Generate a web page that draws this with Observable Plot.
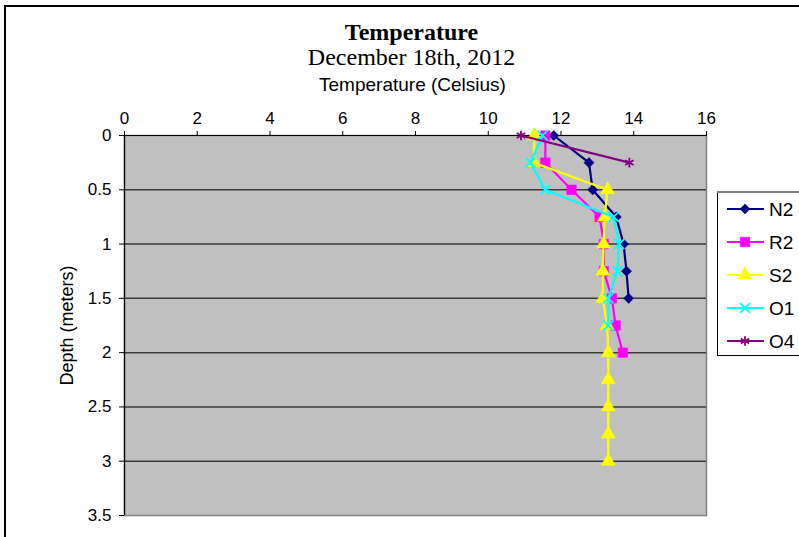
<!DOCTYPE html>
<html>
<head>
<meta charset="utf-8">
<script src="https://cdn.jsdelivr.net/npm/d3@7"></script>
<script src="https://cdn.jsdelivr.net/npm/@observablehq/plot@0.6"></script>
<style>
  html, body { margin: 0; padding: 0; background: #fff; overflow: hidden; width: 799px; height: 537px; }
  #wrap { position: relative; width: 799px; height: 537px; }
  #border { position: absolute; left: 4px; top: 5px; width: 900px; height: 700px; border: 2px solid #000; box-sizing: border-box; }
  #chart { position: absolute; left: 0; top: 0; }
  #legend { position: absolute; left: 717px; top: 191px; }
</style>
</head>
<body>
<div id="wrap">
  <div id="border"></div>
  <div id="chart"></div>
  <div id="legend"></div>
</div>
<script>
// Depth profile readings (meters) and water temperature (°C) per station
const depths = [0, 0.25, 0.5, 0.75, 1, 1.25, 1.5, 1.75, 2, 2.25, 2.5, 2.75, 3];
const n2Temp = [11.8, 12.77, 12.87, 13.52, 13.72, 13.8, 13.86];
const r2Temp = [11.57, 11.57, 12.29, 13.06, 13.18, 13.18, 13.4, 13.5, 13.7];
const s2Temp = [11.27, 11.25, 13.28, 13.2, 13.17, 13.15, 13.15, 13.27, 13.3, 13.3, 13.3, 13.3, 13.3];
const o1Temp = [11.49, 11.16, 11.57, 13.45, 13.6, 13.55, 13.3, 13.3];
const o4Temp = [10.9, 13.88];

const seriesNames = ["N2", "R2", "S2", "O1", "O4"];
const seriesTemps = [n2Temp, r2Temp, s2Temp, o1Temp, o4Temp];
const seriesColors = ["#000080", "#ff00ff", "#ffff00", "#00ffff", "#800080"];
const seriesSymbols = ["diamond2", "square", "triangle", "times", "asterisk"];
const seriesSizes = [4.6, 5.4, 5.2, 4.6, 4.6];

const tempTicks = [0, 2, 4, 6, 8, 10, 12, 14, 16];
const depthTicks = [0, 0.5, 1, 1.5, 2, 2.5, 3, 3.5];
const depthGrid = [0.5, 1, 1.5, 2, 2.5, 3];

const titleText = "Temperature";
const subtitleText = "December 18th, 2012";
const xTitle = "Temperature (Celsius)";
const yTitle = "Depth (meters)";

// Tidy rows: one per reading
const series = seriesNames.map((name, i) => ({
  name,
  color: seriesColors[i],
  symbol: seriesSymbols[i],
  r: seriesSizes[i],
  rows: seriesTemps[i].map((t, j) => ({ station: name, depth: depths[j], temp: t }))
}));

const filled = new Set(["diamond2", "square", "triangle"]);

const seriesMarks = series.flatMap(s => [
  Plot.line(s.rows, { x: "temp", y: "depth", stroke: s.color, strokeWidth: 2.2 }),
  Plot.dot(s.rows, {
    x: "temp", y: "depth", symbol: () => s.symbol, r: s.r,
    fill: filled.has(s.symbol) ? s.color : "none",
    stroke: s.color, strokeWidth: filled.has(s.symbol) ? 0.5 : 1.8
  })
]);

const serif = "'Liberation Serif', 'Times New Roman', serif";

const chart = Plot.plot({
  width: 799,
  height: 537,
  marginLeft: 124,
  marginRight: 93,
  marginTop: 135,
  marginBottom: 22,
  style: { fontFamily: "'Liberation Sans', Arial, sans-serif", fontSize: "17px", color: "#000", background: "transparent", overflow: "visible" },
  x: { domain: [0, 16] },
  y: { domain: [0, 3.5], reverse: true },
  symbol: { domain: seriesSymbols, range: seriesSymbols },
  marks: [
    Plot.frame({ fill: "#c0c0c0", stroke: "#808080", strokeWidth: 1.5 }),
    Plot.ruleY(depthGrid, { stroke: "#3a3a3a", strokeWidth: 1.5 }),
    Plot.ruleX([0], { stroke: "#000", strokeWidth: 1.2 }),
    Plot.ruleY([0], { stroke: "#000", strokeWidth: 1.2 }),
    Plot.axisX({ anchor: "top", ticks: tempTicks, tickSize: 5, tickPadding: 7, label: null, fontSize: 17 }),
    Plot.axisY({ anchor: "left", ticks: depthTicks, tickFormat: d => `${d}`, tickSize: 5, tickPadding: 8, label: null, fontSize: 17 }),
    ...seriesMarks,
    Plot.text([titleText], { frameAnchor: "top", lineAnchor: "middle", dx: -4, dy: -103, fontFamily: serif, fontWeight: "bold", fontSize: 24, fill: "#000" }),
    Plot.text([subtitleText], { frameAnchor: "top", lineAnchor: "middle", dx: -4, dy: -78, fontFamily: serif, fontSize: 24, fill: "#000" }),
    Plot.text([xTitle], { frameAnchor: "top", lineAnchor: "middle", dx: -3, dy: -51, fontSize: 19, fill: "#000" }),
    Plot.text([yTitle], { frameAnchor: "left", textAnchor: "middle", lineAnchor: "middle", dx: -57, rotate: -90, fontSize: 18, fill: "#000" })
  ]
});
document.getElementById("chart").appendChild(chart);

// Legend: line + marker swatch per station
const legW = 110, legH = 165, rowH = 33, firstRow = 18;
const legSvg = d3.select("#legend").append("svg")
  .attr("width", legW).attr("height", legH)
  .style("overflow", "visible")
  .style("font-family", "'Liberation Sans', Arial, sans-serif");
legSvg.append("rect").attr("x", 0.5).attr("y", 0.5).attr("width", legW).attr("height", legH - 1)
  .attr("fill", "#fff").attr("stroke", "#000");
legSvg.append("line").attr("x1", 0).attr("x2", legW).attr("y1", 1).attr("y2", 1).attr("stroke", "#808080").attr("stroke-width", 2);
const symbolMap = {
  diamond2: d3.symbolDiamond2, square: d3.symbolSquare, triangle: d3.symbolTriangle,
  times: d3.symbolTimes, asterisk: d3.symbolAsterisk
};
series.forEach((s, i) => {
  const g = legSvg.append("g").attr("transform", `translate(0,${firstRow + i * rowH})`);
  g.append("line").attr("x1", 10).attr("x2", 47).attr("y1", 0).attr("y2", 0)
    .attr("stroke", s.color).attr("stroke-width", 2);
  g.append("path").attr("transform", "translate(28,0)")
    .attr("d", d3.symbol(symbolMap[s.symbol], Math.PI * s.r * s.r)())
    .attr("fill", filled.has(s.symbol) ? s.color : "none")
    .attr("stroke", s.color).attr("stroke-width", filled.has(s.symbol) ? 0.5 : 1.8);
  g.append("text").attr("x", 52).attr("y", 0).attr("dy", "0.35em")
    .attr("font-size", 19).attr("fill", "#000").text(s.name);
});
</script>
</body>
</html>
